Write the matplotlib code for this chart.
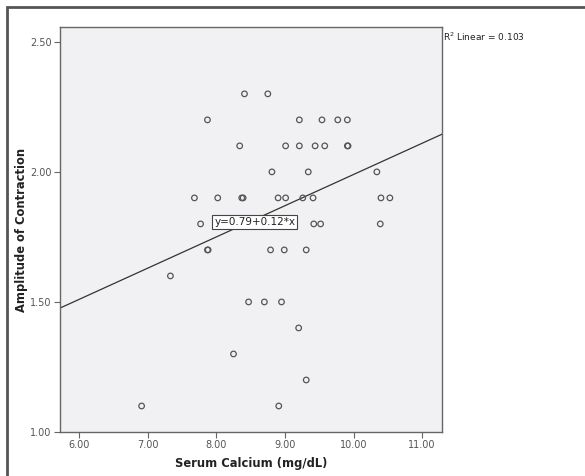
import numpy as np
import matplotlib.pyplot as plt
from matplotlib.patches import Rectangle

# serum calcium (mg/dL) vs amplitude of contraction
calcium = [8.41, 8.75,
           7.87, 9.21, 9.54, 9.77, 9.91,
           8.34, 9.01, 9.21, 9.44, 9.58, 9.91, 9.92,
           8.81, 9.34, 10.34,
           7.68, 8.02, 8.37, 8.39, 8.90, 9.01, 9.26, 9.41, 10.40, 10.53,
           7.77, 9.42, 9.52, 10.39,
           7.87, 7.88, 8.79, 8.99, 9.31,
           7.33,
           8.47, 8.70, 8.95,
           9.20,
           8.25,
           9.31,
           6.91, 8.91]
amplitude = [2.30, 2.30,
             2.20, 2.20, 2.20, 2.20, 2.20,
             2.10, 2.10, 2.10, 2.10, 2.10, 2.10, 2.10,
             2.00, 2.00, 2.00,
             1.90, 1.90, 1.90, 1.90, 1.90, 1.90, 1.90, 1.90, 1.90, 1.90,
             1.80, 1.80, 1.80, 1.80,
             1.70, 1.70, 1.70, 1.70, 1.70,
             1.60,
             1.50, 1.50, 1.50,
             1.40,
             1.30,
             1.20,
             1.10, 1.10]

intercept = 0.79
slope = 0.12
r2 = 0.103

xticks = [6.0, 7.0, 8.0, 9.0, 10.0, 11.0]
yticks = [1.0, 1.5, 2.0, 2.5]
xlim = (5.72, 11.29)
ylim = (1.0, 2.557)

fig = plt.figure(figsize=(5.85, 4.76), dpi=100)
fig.patch.set_facecolor('white')

# outer grey frame (only top/left visible, rest cut off)
fig.add_artist(Rectangle((7 / 585, -0.05), 1.2, 1 - 7 / 476 + 0.05,
                         transform=fig.transFigure, fill=False,
                         edgecolor='#555555', linewidth=2))

ax = fig.add_axes([60 / 585, 1 - 432 / 476, (442 - 60) / 585, (432 - 27) / 476])
ax.set_facecolor('#f1f1f3')

ax.scatter(calcium, amplitude, s=16, facecolors='none', edgecolors='#555555',
           linewidths=0.9, zorder=3)

xs = np.array(xlim)
ax.plot(xs, intercept + slope * xs, color='#333333', linewidth=0.9, zorder=2)

ax.set_xlim(*xlim)
ax.set_ylim(*ylim)
ax.set_xticks(xticks)
ax.set_yticks(yticks)
ax.set_xticklabels(['%.2f' % v for v in xticks])
ax.set_yticklabels(['%.2f' % v for v in yticks])
ax.tick_params(direction='out', length=4, width=0.8, colors='#666666',
               labelsize=7, labelcolor='#555555', pad=2)
for sp in ax.spines.values():
    sp.set_color('#666666')
    sp.set_linewidth(1.0)

ax.set_xlabel('Serum Calcium (mg/dL)', fontsize=8.3, fontweight='bold',
              color='#222222', labelpad=5)
ax.set_ylabel('Amplitude of Contraction', fontsize=8.3, fontweight='bold',
              color='#222222', labelpad=1.5)

ax.text(8.56, 1.808, 'y=0.79+0.12*x', fontsize=7.5, color='#222222',
        ha='center', va='center', zorder=4,
        bbox=dict(boxstyle='square,pad=0.2', facecolor='white',
                  edgecolor='#444444', linewidth=0.8))

fig.text(443 / 585, 1 - 37 / 476, 'R$^2$ Linear = %.3f' % r2, fontsize=6.5,
         color='#222222', ha='left', va='center')

fig.savefig('out.png', dpi=100)
